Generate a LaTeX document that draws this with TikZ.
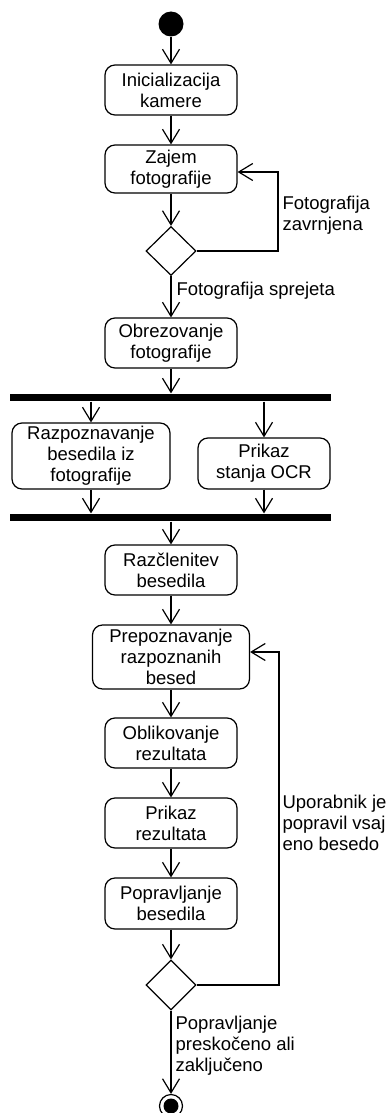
\documentclass[tikz,border=0pt]{standalone}
\usepackage{fontspec}
\setmainfont{Liberation Sans}
\usetikzlibrary{arrows.meta,shapes.geometric}
\tikzset{>={Straight Barb[length=14pt,width=17pt]}}
\tikzset{
  action/.style={draw, rounded corners=10pt, align=center, inner sep=0pt,
    minimum width=132pt, minimum height=50pt},
  choice/.style={draw, diamond, inner sep=0pt, minimum width=50pt, minimum height=49pt},
  bar/.style={fill=black, inner sep=0pt, minimum width=321pt, minimum height=7pt},
  lbl/.style={anchor=west, align=left, inner sep=0pt},
  startnode/.style={circle, fill=black, inner sep=0pt, minimum size=25pt},
  endnode/.style={circle, draw, fill=white, inner sep=0pt, minimum size=23pt,
    path picture={\fill[black] (path picture bounding box.center) circle (7.5pt);}}
}

\begin{document}
\begin{tikzpicture}[x=1pt,y=-1pt,line width=1.2pt,font=\fontsize{18.5}{21}\selectfont]
            \useasboundingbox (0,0) rectangle (389,1113);
            \node[startnode] (start) at (171,24) {};
            \node[action] (init) at (171,90) {Inicializacija\\kamere};
            \node[action, minimum height=48pt] (zajem) at (171,169) {Zajem\\fotografije};
            \node[choice] (dec1) at (171,251) {};
            \node[action] (obrez) at (171,343) {Obrezovanje\\fotografije};
            \node[bar] (fork) at (170.5,397.5) {};
            \node[action, minimum width=158pt, minimum height=66pt] (razp) at (91,456) {Razpoznavanje\\besedila iz\\fotografije};
            \node[action, minimum height=51pt] (ocr) at (264,463.5) {Prikaz\\stanja OCR};
            \node[bar] (join) at (170.5,517.5) {};
            \node[action] (razcl) at (171,570) {Razčlenitev\\besedila};
            \node[action, minimum width=157pt, minimum height=64pt] (prepo) at (171,657) {Prepoznavanje\\razpoznanih\\besed};
            \node[action] (oblik) at (171,743) {Oblikovanje\\rezultata};
            \node[action] (prikaz) at (171,823) {Prikaz\\rezultata};
            \node[action, minimum height=51pt] (poprav) at (171,903.5) {Popravljanje\\besedila};
            \node[choice, minimum height=50pt] (dec2) at (171,985) {};
            \node[endnode] (end) at (171,1106) {};
            \coordinate (loopa) at (278,172);
            \coordinate (loopb) at (279,652);
            % main flow
            \draw[->] (start) -- (init);
            \draw[->] (init) -- (zajem);
            \draw[->] (zajem) -- (dec1);
            \draw[->] (dec1) -- (obrez);
            \draw[->] (obrez.south) -- (obrez.south |- fork.north);
            \draw[->] (razp.north |- fork.south) -- (razp.north);
            \draw[->] (ocr.north |- fork.south) -- (ocr.north);
            \draw[->] (razp.south) -- (razp.south |- join.north);
            \draw[->] (ocr.south) -- (ocr.south |- join.north);
            \draw[->] (razcl.north |- join.south) -- (razcl.north);
            \draw[->] (razcl) -- (prepo);
            \draw[->] (prepo) -- (oblik);
            \draw[->] (oblik) -- (prikaz);
            \draw[->] (prikaz) -- (poprav);
            \draw[->] (poprav) -- (dec2);
            \draw[->] (dec2) -- (end);
            % loops back
            \draw[->] (dec1.east) -| (loopa) -- (zajem.east |- loopa);
            \draw[->] (dec2.east) -| (loopb) -- (prepo.east |- loopb);
            \node[lbl] (lzavr) at (282,215) {Fotografija\\zavrnjena};
            \node[lbl] (lspre) at (176,291) {Fotografija sprejeta};
            \node[lbl] (lupor) at (282,823) {Uporabnik je\\popravil vsaj\\eno besedo};
            \node[lbl] (lkonec) at (175,1046) {Popravljanje\\preskočeno ali\\zaključeno};
        \end{tikzpicture}
\end{document}
